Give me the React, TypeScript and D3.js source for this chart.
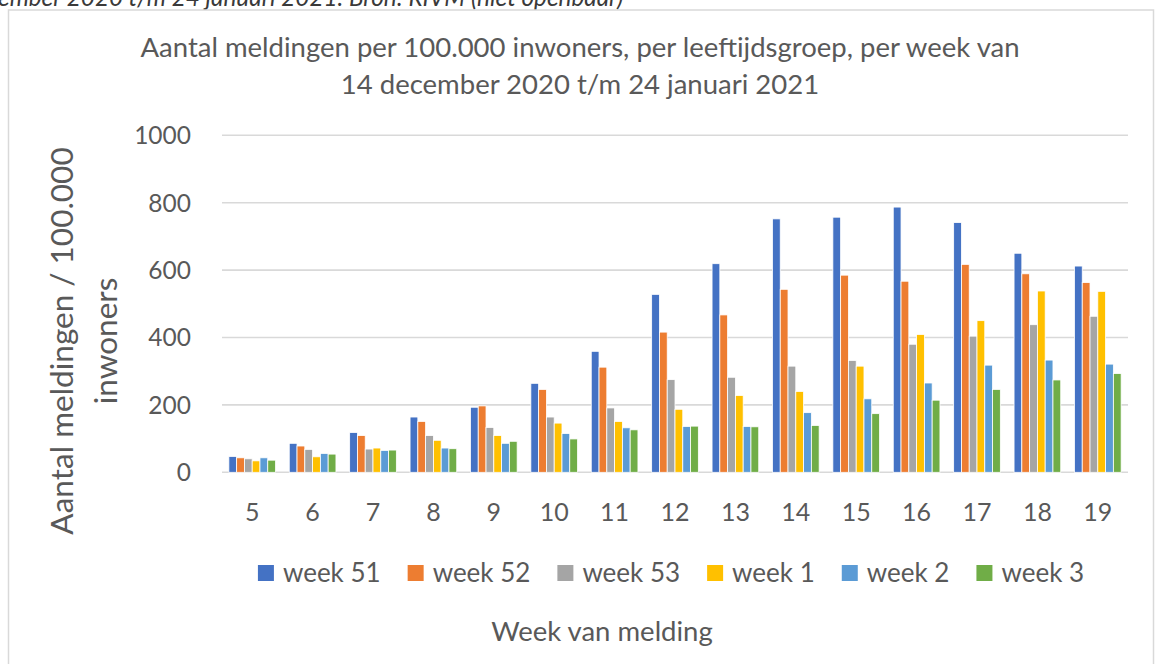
import { useEffect, useRef } from "react";
import * as d3 from "d3";

// leeftijdsgroepen (x-as)
const categories = ["5", "6", "7", "8", "9", "10", "11", "12", "13", "14", "15", "16", "17", "18", "19"];
const seriesNames = ["week 51", "week 52", "week 53", "week 1", "week 2", "week 3"];
const seriesColors = ["#4472C4", "#ED7D31", "#A5A5A5", "#FFC000", "#5B9BD5", "#70AD47"];

// waarden per serie
const week51 = [47, 86, 118, 164, 193, 264, 359, 528, 619, 752, 757, 787, 741, 650, 612];
const week52 = [43, 78, 109, 151, 197, 246, 312, 416, 467, 543, 585, 567, 617, 589, 563];
const week53 = [40, 68, 69, 109, 133, 164, 191, 275, 282, 315, 332, 380, 404, 438, 463];
const week1 = [34, 46, 72, 95, 109, 146, 151, 187, 228, 240, 315, 409, 450, 538, 537];
const week2 = [43, 56, 65, 72, 86, 115, 132, 136, 136, 177, 218, 265, 318, 333, 321];
const week3 = [36, 54, 66, 70, 92, 99, 126, 137, 135, 139, 174, 214, 246, 274, 293];
const seriesValues = [week51, week52, week53, week1, week2, week3];

const yTicks = [0, 200, 400, 600, 800, 1000];

const W = 1156;
const H = 664;
const FONT = "Lato, 'Open Sans', sans-serif";
const TEXT = "#595959";

export default function App() {
  const ref = useRef<SVGSVGElement | null>(null);

  useEffect(() => {
    const svg = d3.select(ref.current);
    svg.selectAll("*").remove();

    // bron-regel bovenaan (afgesneden)
    svg
      .append("text")
      .attr("x", -2)
      .attr("y", 6)
      .attr("font-family", FONT)
      .attr("font-style", "italic")
      .attr("font-size", 24.3)
      .attr("fill", "#3a3a3a")
      .text("ember 2020 t/m 24 januari 2021. Bron: RIVM (niet openbaar)");

    // kader
    svg
      .append("rect")
      .attr("x", 8.5)
      .attr("y", 10)
      .attr("width", 1145)
      .attr("height", 700)
      .attr("fill", "white")
      .attr("stroke", "#d9d9d9")
      .attr("stroke-width", 1.5);

    const x = d3.scaleBand().domain(categories).range([222, 1128]).paddingInner(0.227).paddingOuter(0.1135);
    const xi = d3.scaleBand().domain(seriesNames).range([0, x.bandwidth()]);
    const y = d3.scaleLinear().domain([0, 1000]).range([472.3, 135.3]);

    // titel
    const title = svg
      .append("text")
      .attr("font-family", FONT)
      .attr("font-size", 27.5)
      .attr("fill", TEXT)
      .attr("text-anchor", "middle");
    title.append("tspan").attr("x", 580).attr("y", 57).text("Aantal meldingen per 100.000 inwoners, per leeftijdsgroep, per week van");
    title.append("tspan").attr("x", 580).attr("y", 94).text("14 december 2020 t/m 24 januari 2021");

    // rasterlijnen
    svg
      .append("g")
      .selectAll("line")
      .data(yTicks)
      .join("line")
      .attr("x1", 222)
      .attr("x2", 1128)
      .attr("y1", (d) => y(d))
      .attr("y2", (d) => y(d))
      .attr("stroke", "#d9d9d9")
      .attr("stroke-width", 1.6);

    // y labels
    svg
      .append("g")
      .selectAll("text")
      .data(yTicks)
      .join("text")
      .attr("x", 191)
      .attr("y", (d) => y(d))
      .attr("dy", "0.36em")
      .attr("text-anchor", "end")
      .attr("font-family", FONT)
      .attr("font-size", 24.5)
      .attr("fill", TEXT)
      .text((d) => d);

    // staven
    const groups = svg
      .append("g")
      .selectAll("g")
      .data(seriesValues)
      .join("g")
      .attr("fill", (_, i) => seriesColors[i]);
    groups
      .selectAll("rect")
      .data((vals, si) => vals.map((v, ci) => ({ v, ci, si })))
      .join("rect")
      .attr("x", (d) => (x(categories[d.ci]) ?? 0) + (xi(seriesNames[d.si]) ?? 0))
      .attr("width", xi.bandwidth())
      .attr("y", (d) => y(d.v))
      .attr("height", (d) => y(0) - y(d.v))
      .attr("stroke", "white")
      .attr("stroke-width", 0.8);

    // x labels
    svg
      .append("g")
      .selectAll("text")
      .data(categories)
      .join("text")
      .attr("x", (d) => (x(d) ?? 0) + x.bandwidth() / 2)
      .attr("y", 512)
      .attr("dy", "0.36em")
      .attr("text-anchor", "middle")
      .attr("font-family", FONT)
      .attr("font-size", 25)
      .attr("fill", TEXT)
      .text((d) => d);

    // y-as titel
    const yt = svg
      .append("text")
      .attr("transform", "translate(0,341) rotate(-90)")
      .attr("font-family", FONT)
      .attr("font-size", 31.5)
      .attr("fill", TEXT)
      .attr("text-anchor", "middle");
    yt.append("tspan").attr("x", 0).attr("y", 73).text("Aantal meldingen / 100.000");
    yt.append("tspan").attr("x", 0).attr("y", 117).text("inwoners");

    // x-as titel
    svg
      .append("text")
      .attr("x", 602)
      .attr("y", 631)
      .attr("dy", "0.36em")
      .attr("text-anchor", "middle")
      .attr("font-family", FONT)
      .attr("font-size", 27.5)
      .attr("fill", TEXT)
      .text("Week van melding");

    // legenda: eerst meten, dan centreren
    const leg = svg.append("g");
    const items = leg
      .selectAll("g")
      .data(seriesNames)
      .join("g");
    items
      .append("rect")
      .attr("width", 16)
      .attr("height", 16)
      .attr("y", -8)
      .attr("fill", (_, i) => seriesColors[i]);
    items
      .append("text")
      .attr("x", 25)
      .attr("dy", "0.36em")
      .attr("font-family", FONT)
      .attr("font-size", 26)
      .attr("fill", TEXT)
      .text((d) => d);
    let pos = 0;
    const offsets: number[] = [];
    items.each(function () {
      offsets.push(pos);
      const t = d3.select(this).select("text").node() as SVGTextElement;
      pos += 25 + t.getComputedTextLength() + 27;
    });
    const total = pos - 27;
    const start = 671 - total / 2;
    items.attr("transform", (_, i) => `translate(${start + offsets[i]},573)`);
  }, []);

  return (
    <svg
      ref={ref}
      width={W}
      height={H}
      style={{ position: "absolute", left: 0, top: 0, background: "white" }}
    />
  );
}
